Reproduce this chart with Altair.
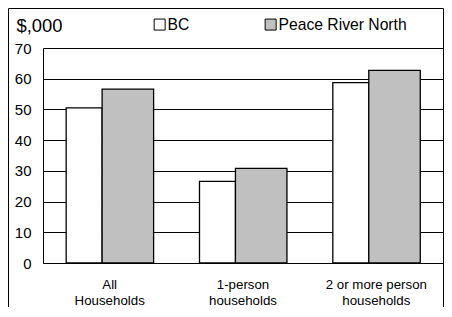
import altair as alt
import pandas as pd

categories = ["All\nHouseholds", "1-person\nhouseholds", "2 or more person\nhouseholds"]
series = ["BC", "Peace River North"]
bc_values = [50.5, 26.6, 58.7]
prn_values = [56.6, 30.8, 62.7]
y_ticks = [0, 10, 20, 30, 40, 50, 60, 70]

rows = []
for c, v in zip(categories, bc_values):
    rows.append({"category": c, "series": series[0], "value": v})
for c, v in zip(categories, prn_values):
    rows.append({"category": c, "series": series[1], "value": v})
df = pd.DataFrame(rows)

FONT = "Liberation Sans"

x_enc = alt.X(
    "category:N",
    sort=categories,
    scale=alt.Scale(paddingInner=0, paddingOuter=0),
    axis=alt.Axis(
        title=None,
        labelAngle=0,
        labelExpr="split(datum.label, '\\n')",
        labelFontSize=13.3,
        labelLineHeight=16.5,
        labelPadding=14,
        labelColor="black",
        labelFont=FONT,
        ticks=False,
        domainColor="black",
        domainWidth=1,
        grid=False,
    ),
)
y_enc = alt.Y(
    "value:Q",
    scale=alt.Scale(domain=[0, 70], nice=False),
    axis=alt.Axis(
        values=y_ticks,
        title="$,000",
        titleAngle=0,
        titleX=-27,
        titleY=-17,
        titleAlign="left",
        titleBaseline="alphabetic",
        titleFontSize=18.4,
        titleFontWeight="normal",
        titleFont=FONT,
        titleColor="black",
        labelFontSize=15,
        labelFont=FONT,
        labelColor="black",
        labelPadding=12,
        ticks=False,
        domainColor="black",
        grid=True,
        gridColor="black",
        gridWidth=1,
    ),
)
color_enc = alt.Color(
    "series:N",
    scale=alt.Scale(domain=series, range=["white", "#c0c0c0"]),
    legend=alt.Legend(
        title=None,
        orient="none",
        direction="horizontal",
        legendX=108.8,
        legendY=-31.5,
        padding=0,
        symbolType="square",
        symbolSize=121,
        symbolStrokeColor="black",
        symbolStrokeWidth=1,
        symbolOpacity=1,
        labelFontSize=15.7,
        labelFont=FONT,
        labelColor="black",
        labelOffset=0,
        columnPadding=73,
    ),
)

base = alt.Chart(df).encode(x=x_enc, y=y_enc, color=color_enc)

bars_bc = base.transform_filter(alt.datum.series == series[0]).mark_bar(
    width=36, xOffset=-25.5, stroke="black", strokeWidth=1.3, opacity=1
)
bars_prn = base.transform_filter(alt.datum.series == series[1]).mark_bar(
    width=51.5, xOffset=18.2, stroke="black", strokeWidth=1.3, opacity=1
)

frame_df = pd.DataFrame({"k": [0]})
frame = alt.Chart(frame_df).mark_rect(filled=False, stroke="black", strokeWidth=1).encode(
    x=alt.value(-34.5), x2=alt.value(400.5), y=alt.value(-39.5), y2=alt.value(290)
)

chart = (
    alt.layer(bars_bc, bars_prn, frame)
    .properties(
        width=400,
        height=215,
        padding={"left": 35, "top": 40, "right": 1, "bottom": 44},
        autosize=alt.AutoSizeParams(type="none"),
        background="white",
    )
    .configure_view(stroke=None)
)

chart.save("out.html", embed_options={"renderer": "svg", "actions": False})
